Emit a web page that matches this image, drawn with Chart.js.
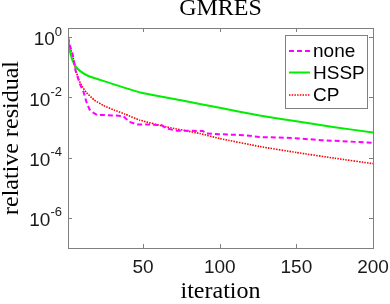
<!DOCTYPE html>
<html>
<head>
<meta charset="utf-8">
<script src="https://cdn.jsdelivr.net/npm/chart.js@4.4.1/dist/chart.umd.min.js"></script>
<style>
  html, body { margin: 0; padding: 0; background: #fff; }
</style>
</head>
<body>
<canvas id="chart" width="390" height="304"></canvas>
<script>
// iterations and residuals
const noneIter = [1, 2, 4, 6, 9, 11, 13, 15, 17, 20, 24, 31, 37, 41, 46, 54, 62, 65, 72, 80, 89, 91, 100, 117, 126, 147, 166, 190, 200];
const noneRes = [1, 0.56, 0.28, 0.074, 0.026, 0.0158, 0.0071, 0.004, 0.0032, 0.0026, 0.0026, 0.0025, 0.0024, 0.00155, 0.00126, 0.00126, 0.0012, 0.00093, 0.00078, 0.00078, 0.00076, 0.00063, 0.0006, 0.00055, 0.00048, 0.00045, 0.00038, 0.00033, 0.00031];

const hsspIter = [1, 2, 3, 4, 6, 9, 14, 22, 31, 48, 74, 100, 126, 150, 175, 200];
const hsspRes = [1, 0.4, 0.24, 0.166, 0.107, 0.074, 0.052, 0.038, 0.027, 0.0145, 0.0081, 0.0045, 0.0025, 0.0016, 0.00102, 0.00068];

const cpIter = [1, 2, 4, 6, 8, 10, 13, 18, 24, 31, 38, 48, 65, 87, 100, 126, 150, 175, 200];
const cpRes = [1, 0.5, 0.25, 0.083, 0.039, 0.024, 0.0145, 0.0083, 0.0054, 0.0038, 0.0028, 0.00174, 0.00105, 0.00063, 0.00043, 0.000234, 0.000148, 0.0000955, 0.000063];

const xTicks = [50, 100, 150, 200];
const yTicks = [1, 1e-2, 1e-4, 1e-6];
const yExps = ["0", "-2", "-4", "-6"];

const axisColor = "#7f7f7f";
const textColor = "#1a1a1a";
const sans = "'Liberation Sans', Arial, sans-serif";
const serif = "'Liberation Serif', 'Times New Roman', serif";

const toPts = (xs, ys) => xs.map((x, i) => ({ x: x, y: ys[i] }));

// box, inward ticks, y labels with exponents, legend
const frame = {
    id: "frame",
    afterDraw(chart) {
        const { ctx, chartArea: a, scales: { x, y } } = chart;
        ctx.save();
        ctx.strokeStyle = axisColor;
        ctx.lineWidth = 1;
        ctx.strokeRect(a.left + 0.5, a.top + 0.5, a.right - a.left, a.bottom - a.top);

        const tl = 4;
        ctx.beginPath();
        xTicks.forEach(v => {
            const px = Math.round(x.getPixelForValue(v)) + 0.5;
            ctx.moveTo(px, a.bottom); ctx.lineTo(px, a.bottom - tl);
            ctx.moveTo(px, a.top); ctx.lineTo(px, a.top + tl);
        });
        yTicks.forEach(v => {
            const py = Math.round(y.getPixelForValue(v)) + 0.5;
            ctx.moveTo(a.left, py); ctx.lineTo(a.left + tl, py);
            ctx.moveTo(a.right, py); ctx.lineTo(a.right - tl, py);
        });
        ctx.stroke();

        // y tick labels: 10 with superscript
        ctx.fillStyle = textColor;
        ctx.textBaseline = "middle";
        ctx.textAlign = "left";
        yTicks.forEach((v, i) => {
            const py = y.getPixelForValue(v);
            ctx.font = "19px " + sans;
            const wb = ctx.measureText("10").width;
            ctx.font = "13px " + sans;
            const we = ctx.measureText(yExps[i]).width;
            const x0 = a.left - 6 - wb - we;
            ctx.font = "19px " + sans;
            ctx.fillText("10", x0, py + 3);
            ctx.font = "13px " + sans;
            ctx.fillText(yExps[i], x0 + wb, py - 5);
        });

        // legend
        const lx = 285, ly = 35, lw = 82, lh = 73;
        ctx.fillStyle = "#fff";
        ctx.fillRect(lx, ly, lw, lh);
        ctx.strokeStyle = axisColor;
        ctx.strokeRect(lx + 0.5, ly + 0.5, lw, lh);
        const rows = [51, 72.5, 95];
        chart.data.datasets.forEach((ds, i) => {
            ctx.save();
            ctx.strokeStyle = ds.borderColor;
            ctx.lineWidth = ds.borderWidth;
            ctx.setLineDash(ds.borderDash || []);
            ctx.beginPath();
            ctx.moveTo(289, rows[i]);
            ctx.lineTo(310, rows[i]);
            ctx.stroke();
            ctx.restore();
            ctx.fillStyle = "#000";
            ctx.font = "19px " + sans;
            ctx.fillText(ds.label, 313, rows[i] + 1);
        });
        ctx.restore();
    }
};

new Chart(document.getElementById("chart"), {
    type: "line",
    data: {
        datasets: [
            { label: "none", data: toPts(noneIter, noneRes), borderColor: "#ff00ff", borderWidth: 2, borderDash: [5, 3], pointRadius: 0, tension: 0 },
            { label: "HSSP", data: toPts(hsspIter, hsspRes), borderColor: "#00ee00", borderWidth: 2, pointRadius: 0, tension: 0.15 },
            { label: "CP", data: toPts(cpIter, cpRes), borderColor: "#ff0000", borderWidth: 1.6, borderDash: [1.5, 1.2], pointRadius: 0, tension: 0.15 }
        ]
    },
    options: {
        responsive: false,
        animation: false,
        layout: { padding: { left: 0, right: 17, top: 0, bottom: 0 } },
        plugins: {
            legend: { display: false },
            tooltip: { enabled: false },
            title: {
                display: true,
                text: "GMRES",
                fullSize: false,
                color: "#000",
                font: { family: serif, size: 24, weight: "normal", lineHeight: 1 },
                padding: { top: -3, bottom: 7 }
            }
        },
        scales: {
            x: {
                type: "linear",
                min: 1,
                max: 200,
                grid: { display: false, drawTicks: false },
                border: { display: false },
                afterBuildTicks: s => { s.ticks = xTicks.map(v => ({ value: v })); },
                afterFit: s => { s.height = 56; s.paddingLeft = 0; s.paddingRight = 0; },
                ticks: { color: textColor, font: { family: sans, size: 19 }, padding: 8, maxRotation: 0 },
                title: { display: true, text: "iteration", color: "#000", font: { family: serif, size: 24, lineHeight: 1 }, padding: 0 }
            },
            y: {
                type: "logarithmic",
                min: 1e-7,
                max: 2,
                grid: { display: false, drawTicks: false },
                border: { display: false },
                afterBuildTicks: s => { s.ticks = yTicks.map(v => ({ value: v })); },
                afterFit: s => { s.width = 68; s.paddingTop = 0; s.paddingBottom = 0; },
                ticks: { display: false },
                title: { display: true, text: "relative residual", color: "#000", font: { family: serif, size: 24, lineHeight: 1 }, padding: 0 }
            }
        }
    },
    plugins: [frame]
});
</script>
</body>
</html>
